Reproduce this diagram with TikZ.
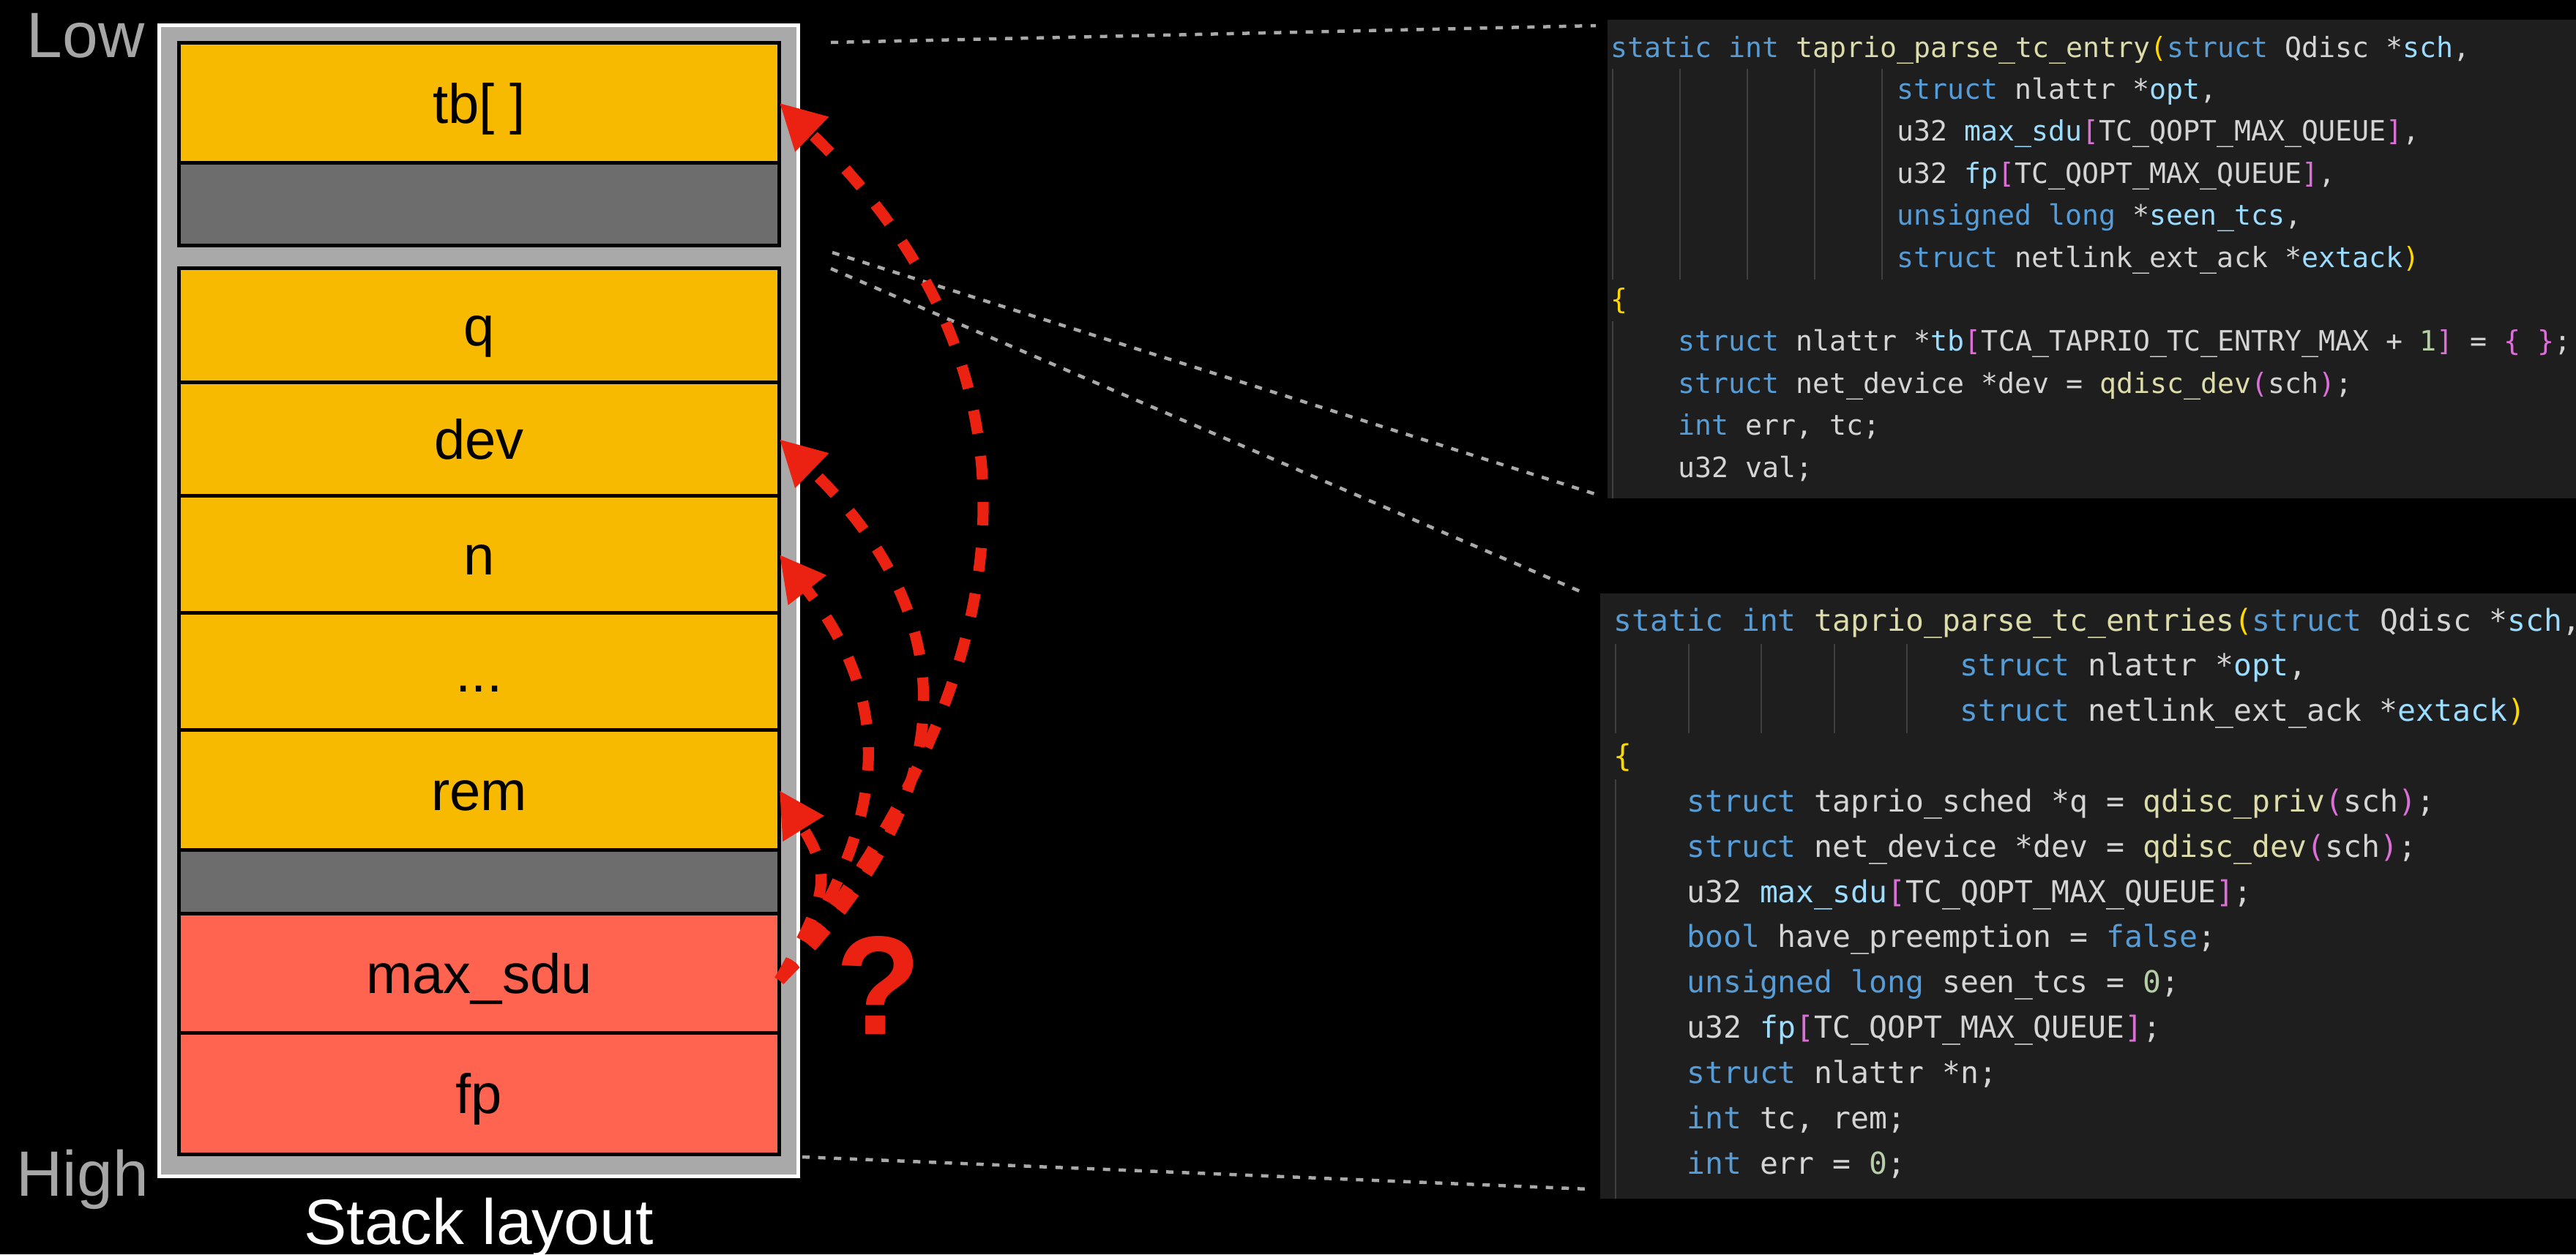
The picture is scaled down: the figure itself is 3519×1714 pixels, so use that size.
\documentclass[tikz,border=0pt]{standalone}
\usepackage{fontspec}
\setmainfont{Liberation Sans}
\newfontfamily\codefont{DejaVu Sans Mono}
\usetikzlibrary{positioning,arrows.meta}

\definecolor{slotyellow}{HTML}{F8BA00}
\definecolor{slotred}{HTML}{FF6450}
\definecolor{slotgap}{HTML}{6D6D6D}
\definecolor{framegray}{HTML}{A9A9A9}
\definecolor{labelgray}{HTML}{A6A6A6}
\definecolor{hotred}{HTML}{EB2212}
\definecolor{panelbg}{HTML}{1E1E1E}
\definecolor{guidegray}{HTML}{404040}
\definecolor{kwblue}{HTML}{569CD6}
\definecolor{fnyellow}{HTML}{DCDCAA}
\definecolor{varblue}{HTML}{9CDCFE}
\definecolor{numgreen}{HTML}{B5CEA8}
\definecolor{plaintext}{HTML}{D4D4D4}
\definecolor{brgold}{HTML}{FFD700}
\definecolor{brpink}{HTML}{DA70D6}

\newcommand{\ckw}[1]{\textcolor{kwblue}{#1}}
\newcommand{\cfn}[1]{\textcolor{fnyellow}{#1}}
\newcommand{\cvar}[1]{\textcolor{varblue}{#1}}
\newcommand{\cnum}[1]{\textcolor{numgreen}{#1}}
\newcommand{\cbra}[1]{\textcolor{brgold}{#1}}
\newcommand{\cbrb}[1]{\textcolor{brpink}{#1}}

\begin{document}
\begin{tikzpicture}[x=0.01cm, y=-0.01cm,
    slot/.style={draw=black, line width=1.42pt, minimum width=8.2cm, minimum height=#1,
      inner sep=0pt, outer sep=0pt, text height=0.6cm, text depth=0.05cm,
      font=\fontsize{21.6pt}{24pt}\selectfont},
    side/.style={anchor=base west, inner sep=0pt, text=labelgray, font=\fontsize{24.9pt}{28pt}\selectfont},
    codeA/.style={anchor=base west, inner sep=0pt, text=plaintext, font=\codefont\fontsize{10.87pt}{13pt}\selectfont},
    codeB/.style={anchor=base west, inner sep=0pt, text=plaintext, font=\codefont\fontsize{11.77pt}{14pt}\selectfont},
    guide/.style={draw=guidegray, line width=0.57pt},
    link/.style={draw=framegray, line width=1.28pt, dash pattern=on 2.85pt off 3.3pt},
    leak/.style={draw=hotred, line width=4.3pt, dash pattern=on 9.1pt off 8.8pt,
      -{Triangle[length=17.6pt,width=17.6pt]}}]

  \fill[black] (0,0) rectangle (3519,1714);
  \useasboundingbox (0,0) rectangle (3519,1714);

  % stack frame
  \draw[draw=white, fill=framegray, line width=1.42pt] (217.5,34.5) rectangle (1090.5,1607.5);

  \node[slot=1.64cm, fill=slotyellow, anchor=north] (tb) at (654.5,58.5) {tb[ ]};
  \node[slot=1.13cm, fill=slotgap, below=0pt of tb] (gap1) {};

  \node[slot=1.56cm, fill=slotyellow, anchor=north] (q) at (654.5,366.5) {q};
  \node[slot=1.55cm, fill=slotyellow, below=0pt of q] (dev) {dev};
  \node[slot=1.60cm, fill=slotyellow, below=0pt of dev] (n) {n};
  \node[slot=1.60cm, fill=slotyellow, below=0pt of n] (dots) {...};
  \node[slot=1.64cm, fill=slotyellow, below=0pt of dots] (rem) {rem};
  \node[slot=0.86cm, fill=slotgap, below=0pt of rem] (gap2) {};
  \node[slot=1.63cm, fill=slotred, below=0pt of gap2] (maxsdu) {max\_sdu};
  \node[slot=1.66cm, fill=slotred, below=0pt of maxsdu] (fp) {fp};

  \node[side] (low) at (36,78) {Low};
  \node[side] (high) at (22,1634) {High};
  \node[anchor=base, inner sep=0pt, text=white, font=\fontsize{24.9pt}{28pt}\selectfont] (title) at (654,1700) {Stack layout};

  % code panels
  \fill[panelbg] (2196,27) rectangle (3519,681);
  \fill[panelbg] (2186,811) rectangle (3519,1638);

  \foreach \gx in {2203,2295,2387,2479,2571}
    \draw[guide] (\gx,94) -- (\gx,382);
  \draw[guide] (2203,439) -- (2203,681);
  \foreach \gx in {2207,2306.6,2406.2,2505.8,2605.4}
    \draw[guide] (\gx,880) -- (\gx,1002);
  \draw[guide] (2207,1065) -- (2207,1638);

  \node[codeA] (e1) at (2200,78) {\ckw{static int} \cfn{taprio\_parse\_tc\_entry}\cbra{(}\ckw{struct} Qdisc *\cvar{sch},};
  \node[codeA] (e2) at (2591,135.4) {\ckw{struct} nlattr *\cvar{opt},};
  \node[codeA] (e3) at (2591,192.8) {u32 \cvar{max\_sdu}\cbrb{[}TC\_QOPT\_MAX\_QUEUE\cbrb{]},};
  \node[codeA] (e4) at (2591,250.2) {u32 \cvar{fp}\cbrb{[}TC\_QOPT\_MAX\_QUEUE\cbrb{]},};
  \node[codeA] (e5) at (2591,307.6) {\ckw{unsigned long} *\cvar{seen\_tcs},};
  \node[codeA] (e6) at (2591,365) {\ckw{struct} netlink\_ext\_ack *\cvar{extack}\cbra{)}};
  \node[codeA] (e7) at (2200,422.4) {\cbra{\{}};
  \node[codeA] (e8) at (2292,479.8) {\ckw{struct} nlattr *\cvar{tb}\cbrb{[}TCA\_TAPRIO\_TC\_ENTRY\_MAX + \cnum{1}\cbrb{]} = \cbrb{\{ \}};};
  \node[codeA] (e9) at (2292,537.2) {\ckw{struct} net\_device *dev = \cfn{qdisc\_dev}\cbrb{(}sch\cbrb{)};};
  \node[codeA] (e10) at (2292,594.6) {\ckw{int} err, tc;};
  \node[codeA] (e11) at (2292,652) {u32 val;};

  \node[codeB] (p1) at (2204,862) {\ckw{static int} \cfn{taprio\_parse\_tc\_entries}\cbra{(}\ckw{struct} Qdisc *\cvar{sch},};
  \node[codeB] (p2) at (2677,923.8) {\ckw{struct} nlattr *\cvar{opt},};
  \node[codeB] (p3) at (2677,985.7) {\ckw{struct} netlink\_ext\_ack *\cvar{extack}\cbra{)}};
  \node[codeB] (p4) at (2204,1047.5) {\cbra{\{}};
  \node[codeB] (p5) at (2303.6,1109.3) {\ckw{struct} taprio\_sched *q = \cfn{qdisc\_priv}\cbrb{(}sch\cbrb{)};};
  \node[codeB] (p6) at (2303.6,1171.2) {\ckw{struct} net\_device *dev = \cfn{qdisc\_dev}\cbrb{(}sch\cbrb{)};};
  \node[codeB] (p7) at (2303.6,1233) {u32 \cvar{max\_sdu}\cbrb{[}TC\_QOPT\_MAX\_QUEUE\cbrb{]};};
  \node[codeB] (p8) at (2303.6,1294.8) {\ckw{bool} have\_preemption = \ckw{false};};
  \node[codeB] (p9) at (2303.6,1356.6) {\ckw{unsigned long} seen\_tcs = \cnum{0};};
  \node[codeB] (p10) at (2303.6,1418.5) {u32 \cvar{fp}\cbrb{[}TC\_QOPT\_MAX\_QUEUE\cbrb{]};};
  \node[codeB] (p11) at (2303.6,1480.3) {\ckw{struct} nlattr *n;};
  \node[codeB] (p12) at (2303.6,1542.1) {\ckw{int} tc, rem;};
  \node[codeB] (p13) at (2303.6,1604) {\ckw{int} err = \cnum{0};};

  % zoom lines
  \coordinate (tbTop) at (1135,58);
  \coordinate (entryTop) at (2180,35);
  \coordinate (gapEnd) at (1137,345);
  \coordinate (entryEnd) at (2182,676);
  \coordinate (qTop) at (1135,367);
  \coordinate (entriesTop) at (2163,810);
  \coordinate (fpEnd) at (1096,1581);
  \coordinate (entriesEnd) at (2171,1625);

  \draw[link] (tbTop) -- (entryTop);
  \draw[link] (gapEnd) -- (entryEnd);
  \draw[link] (qTop) -- (entriesTop);
  \draw[link] (fpEnd) -- (entriesEnd);

  % overflow from max_sdu
  \coordinate (src) at ([yshift=-0.1cm]maxsdu.east);
  \draw[leak] (src) to[out=51, in=-44, looseness=1.15] (tb.east);
  \draw[leak] (src) to[out=45, in=-44, looseness=1.24] (dev.east);
  \draw[leak] (src) to[out=55, in=-52, looseness=1.15] (n.east);
  \draw[leak] (src) to[out=60, in=-58, looseness=1.33] (rem.east);

  \node[anchor=base, inner sep=0pt, text=hotred, font=\bfseries\fontsize{54.6pt}{60pt}\selectfont] (ask) at (1200,1413) {?};
\end{tikzpicture}
\end{document}
